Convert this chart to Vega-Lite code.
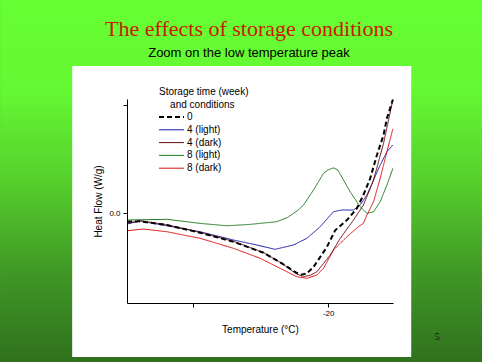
{
  "$schema": "https://vega.github.io/schema/vega-lite/v6.json",
  "width": 266,
  "height": 204,
  "autosize": {"type": "none"},
  "padding": {"left": 127, "top": 99, "right": 89, "bottom": 59},
  "background": "#4caf2a",
  "title": {
    "text": "The effects of storage conditions",
    "subtitle": "Zoom on the low temperature peak",
    "font": "Liberation Serif",
    "fontSize": 22,
    "fontWeight": "normal",
    "color": "#cc1a00",
    "subtitleFont": "Liberation Sans",
    "subtitleFontSize": 13,
    "subtitleColor": "#000000",
    "subtitlePadding": 6,
    "anchor": "middle",
    "dx": -11,
    "offset": 0,
    "dy": 61
  },
  "config": {
    "view": {"stroke": null},
    "axis": {
      "domainColor": "#000000",
      "tickColor": "#000000",
      "tickSize": 4,
      "grid": false,
      "labelFont": "Liberation Sans",
      "labelFontSize": 8,
      "labelColor": "#000000",
      "titleFont": "Liberation Sans",
      "titleFontSize": 10,
      "titleFontWeight": "normal",
      "titleColor": "#000000"
    },
    "legend": {
      "titleFont": "Liberation Sans",
      "titleFontSize": 10,
      "titleFontWeight": "normal",
      "titleColor": "#000000",
      "labelFont": "Liberation Sans",
      "labelFontSize": 10,
      "labelColor": "#000000"
    }
  },
  "data": {
    "values": [
      {"series": "4 (light)", "temp": -34.9, "heat": -0.0102},
      {"series": "4 (light)", "temp": -33.93, "heat": -0.0074},
      {"series": "4 (light)", "temp": -31.95, "heat": -0.0118},
      {"series": "4 (light)", "temp": -29.48, "heat": -0.0173},
      {"series": "4 (light)", "temp": -27.01, "heat": -0.025},
      {"series": "4 (light)", "temp": -25.28, "heat": -0.0296},
      {"series": "4 (light)", "temp": -23.93, "heat": -0.0336},
      {"series": "4 (light)", "temp": -22.57, "heat": -0.0296},
      {"series": "4 (light)", "temp": -21.58, "heat": -0.0234},
      {"series": "4 (light)", "temp": -20.59, "heat": -0.0127},
      {"series": "4 (light)", "temp": -19.61, "heat": 0.0012},
      {"series": "4 (light)", "temp": -19.0, "heat": 0.0028},
      {"series": "4 (light)", "temp": -18.13, "heat": 0.0028},
      {"series": "4 (light)", "temp": -17.63, "heat": 0.0074},
      {"series": "4 (light)", "temp": -17.13, "heat": 0.0167},
      {"series": "4 (light)", "temp": -16.64, "heat": 0.0306},
      {"series": "4 (light)", "temp": -16.15, "heat": 0.0444},
      {"series": "4 (light)", "temp": -15.65, "heat": 0.0568},
      {"series": "4 (light)", "temp": -15.21, "heat": 0.063},

      {"series": "8 (light)", "temp": -34.9, "heat": -0.0065},
      {"series": "8 (light)", "temp": -31.95, "heat": -0.0058},
      {"series": "8 (light)", "temp": -29.48, "heat": -0.0096},
      {"series": "8 (light)", "temp": -27.5, "heat": -0.0118},
      {"series": "8 (light)", "temp": -25.78, "heat": -0.0105},
      {"series": "8 (light)", "temp": -23.8, "heat": -0.008},
      {"series": "8 (light)", "temp": -23.0, "heat": -0.004},
      {"series": "8 (light)", "temp": -22.3, "heat": 0.002},
      {"series": "8 (light)", "temp": -21.83, "heat": 0.0074},
      {"series": "8 (light)", "temp": -21.09, "heat": 0.0213},
      {"series": "8 (light)", "temp": -20.35, "heat": 0.0367},
      {"series": "8 (light)", "temp": -20.0, "heat": 0.04},
      {"series": "8 (light)", "temp": -19.61, "heat": 0.0418},
      {"series": "8 (light)", "temp": -19.3, "heat": 0.04},
      {"series": "8 (light)", "temp": -19.11, "heat": 0.036},
      {"series": "8 (light)", "temp": -18.37, "heat": 0.0197},
      {"series": "8 (light)", "temp": -17.63, "heat": 0.0058},
      {"series": "8 (light)", "temp": -17.13, "heat": -0.0003},
      {"series": "8 (light)", "temp": -16.64, "heat": 0.0012},
      {"series": "8 (light)", "temp": -16.15, "heat": 0.0105},
      {"series": "8 (light)", "temp": -15.65, "heat": 0.0259},
      {"series": "8 (light)", "temp": -15.21, "heat": 0.0414},

      {"series": "8 (dark)", "temp": -34.9, "heat": -0.0164},
      {"series": "8 (dark)", "temp": -33.68, "heat": -0.0148},
      {"series": "8 (dark)", "temp": -31.95, "heat": -0.0173},
      {"series": "8 (dark)", "temp": -29.48, "heat": -0.0234},
      {"series": "8 (dark)", "temp": -27.01, "heat": -0.0327},
      {"series": "8 (dark)", "temp": -25.04, "heat": -0.0419},
      {"series": "8 (dark)", "temp": -23.56, "heat": -0.0512},
      {"series": "8 (dark)", "temp": -22.32, "heat": -0.059},
      {"series": "8 (dark)", "temp": -21.58, "heat": -0.0605},
      {"series": "8 (dark)", "temp": -20.84, "heat": -0.0574},
      {"series": "8 (dark)", "temp": -20.35, "heat": -0.0512},
      {"series": "8 (dark)", "temp": -19.61, "heat": -0.0343},
      {"series": "8 (dark)", "temp": -18.61, "heat": -0.0219},
      {"series": "8 (dark)", "temp": -17.76, "heat": -0.0127},
      {"series": "8 (dark)", "temp": -17.39, "heat": -0.0095},
      {"series": "8 (dark)", "temp": -17.13, "heat": -0.0019},
      {"series": "8 (dark)", "temp": -16.64, "heat": 0.0105},
      {"series": "8 (dark)", "temp": -16.15, "heat": 0.0321},
      {"series": "8 (dark)", "temp": -15.65, "heat": 0.0568},
      {"series": "8 (dark)", "temp": -15.21, "heat": 0.078},

      {"series": "4 (dark)", "temp": -34.9, "heat": -0.0095},
      {"series": "4 (dark)", "temp": -33.93, "heat": -0.0071},
      {"series": "4 (dark)", "temp": -31.95, "heat": -0.0108},
      {"series": "4 (dark)", "temp": -29.48, "heat": -0.018},
      {"series": "4 (dark)", "temp": -27.01, "heat": -0.0262},
      {"series": "4 (dark)", "temp": -24.79, "heat": -0.0366},
      {"series": "4 (dark)", "temp": -23.43, "heat": -0.0466},
      {"series": "4 (dark)", "temp": -22.4, "heat": -0.056},
      {"series": "4 (dark)", "temp": -21.83, "heat": -0.059},
      {"series": "4 (dark)", "temp": -21.3, "heat": -0.0575},
      {"series": "4 (dark)", "temp": -20.84, "heat": -0.0544},
      {"series": "4 (dark)", "temp": -19.85, "heat": -0.0389},
      {"series": "4 (dark)", "temp": -19.11, "heat": -0.0234},
      {"series": "4 (dark)", "temp": -18.13, "heat": -0.0065},
      {"series": "4 (dark)", "temp": -17.39, "heat": 0.0074},
      {"series": "4 (dark)", "temp": -16.64, "heat": 0.0306},
      {"series": "4 (dark)", "temp": -15.9, "heat": 0.0645},
      {"series": "4 (dark)", "temp": -15.21, "heat": 0.105},

      {"series": "0", "temp": -34.9, "heat": -0.0081},
      {"series": "0", "temp": -33.93, "heat": -0.0077},
      {"series": "0", "temp": -31.95, "heat": -0.0111},
      {"series": "0", "temp": -29.48, "heat": -0.0182},
      {"series": "0", "temp": -27.01, "heat": -0.0266},
      {"series": "0", "temp": -24.79, "heat": -0.0368},
      {"series": "0", "temp": -23.43, "heat": -0.0466},
      {"series": "0", "temp": -22.4, "heat": -0.055},
      {"series": "0", "temp": -22.0, "heat": -0.0572},
      {"series": "0", "temp": -21.6, "heat": -0.056},
      {"series": "0", "temp": -21.09, "heat": -0.05},
      {"series": "0", "temp": -20.1, "heat": -0.0315},
      {"series": "0", "temp": -19.48, "heat": -0.016},
      {"series": "0", "temp": -18.61, "heat": -0.0065},
      {"series": "0", "temp": -17.87, "heat": 0.0044},
      {"series": "0", "temp": -17.39, "heat": 0.0167},
      {"series": "0", "temp": -16.89, "heat": 0.0321},
      {"series": "0", "temp": -16.39, "heat": 0.0537},
      {"series": "0", "temp": -15.9, "heat": 0.0722},
      {"series": "0", "temp": -15.65, "heat": 0.0877},
      {"series": "0", "temp": -15.21, "heat": 0.105}
    ]
  },
  "layer": [
    {
      "data": {"values": [{}]},
      "mark": {
        "type": "rect",
        "clip": false,
        "color": {
          "gradient": "linear",
          "x1": 0, "y1": 0, "x2": 0, "y2": 1,
          "stops": [
            {"offset": 0, "color": "#66ff33"},
            {"offset": 0.25, "color": "#64f832"},
            {"offset": 0.5, "color": "#56cf2c"},
            {"offset": 0.75, "color": "#409726"},
            {"offset": 1, "color": "#2f701e"}
          ]
        }
      },
      "encoding": {
        "x": {"datum": -44.3, "type": "quantitative", "scale": {"domain": [-34.9, -15.2], "nice": false, "zero": false}},
        "x2": {"datum": -8.5},
        "y": {"datum": 0.1972, "type": "quantitative", "scale": {"domain": [-0.0833, 0.1056], "nice": false, "zero": false}},
        "y2": {"datum": -0.14}
      }
    },
    {
      "data": {"values": [{}]},
      "mark": {"type": "rect", "clip": false, "color": "#ffffff"},
      "encoding": {
        "x": {"datum": -38.96, "type": "quantitative"},
        "x2": {"datum": -13.85},
        "y": {"datum": 0.1361, "type": "quantitative"},
        "y2": {"datum": -0.1333}
      }
    },
    {
      "mark": {"type": "line", "clip": false},
      "encoding": {
        "x": {
          "field": "temp",
          "type": "quantitative",
          "scale": {"domain": [-34.9, -15.2], "nice": false, "zero": false},
          "axis": {
            "zindex": 2,
            "title": "Temperature (°C)",
            "values": [-30, -20],
            "labelExpr": "datum.value === -20 ? '-20' : ''",
            "labelPadding": 2,
            "titlePadding": 7
          }
        },
        "y": {
          "field": "heat",
          "type": "quantitative",
          "scale": {"domain": [-0.0833, 0.1056], "nice": false, "zero": false},
          "axis": {
            "zindex": 2,
            "title": "Heat Flow (W/g)",
            "values": [0, 0.1],
            "labelExpr": "datum.value === 0 ? '0.0' : ''",
            "labelPadding": 3,
            "titlePadding": 5
          }
        },
        "color": {
          "field": "series",
          "type": "nominal",
          "scale": {
            "domain": ["0", "4 (light)", "4 (dark)", "8 (light)", "8 (dark)"],
            "range": ["#000000", "#1a1aa8", "#6b0a0a", "#1e7a1e", "#dd1111"]
          },
          "legend": {
            "title": ["Storage time (week)", "\u200b\u00a0\u00a0\u00a0\u00a0and conditions"],
            "orient": "none",
            "legendX": 32,
            "legendY": -12,
            "padding": 0,
            "titleAnchor": "start",
            "titleAlign": "left",
            "titleLineHeight": 13,
            "titlePadding": 2,
            "symbolType": "M-1,0H4",
            "symbolSize": 100,
            "labelOffset": 18,
            "rowPadding": 2.8,
            "encode": {
              "symbols": {
                "update": {
                  "strokeWidth": {"signal": "datum.value === '0' ? 2 : 1"}
                }
              }
            }
          }
        },
        "strokeDash": {
          "field": "series",
          "type": "nominal",
          "scale": {
            "domain": ["0", "4 (light)", "4 (dark)", "8 (light)", "8 (dark)"],
            "range": [[5, 3], [1, 0], [1, 0], [1, 0], [1, 0]]
          }
        },
        "strokeWidth": {
          "condition": {"test": "datum.series === '0'", "value": 2},
          "value": 1
        }
      }
    },
    {
      "data": {"values": [{"page": "5"}]},
      "mark": {"type": "text", "clip": false, "font": "Liberation Serif", "fontSize": 10, "color": "#111111"},
      "encoding": {
        "x": {"datum": -11.93, "type": "quantitative"},
        "y": {"datum": -0.1148, "type": "quantitative"},
        "text": {"field": "page"}
      }
    }
  ]
}
